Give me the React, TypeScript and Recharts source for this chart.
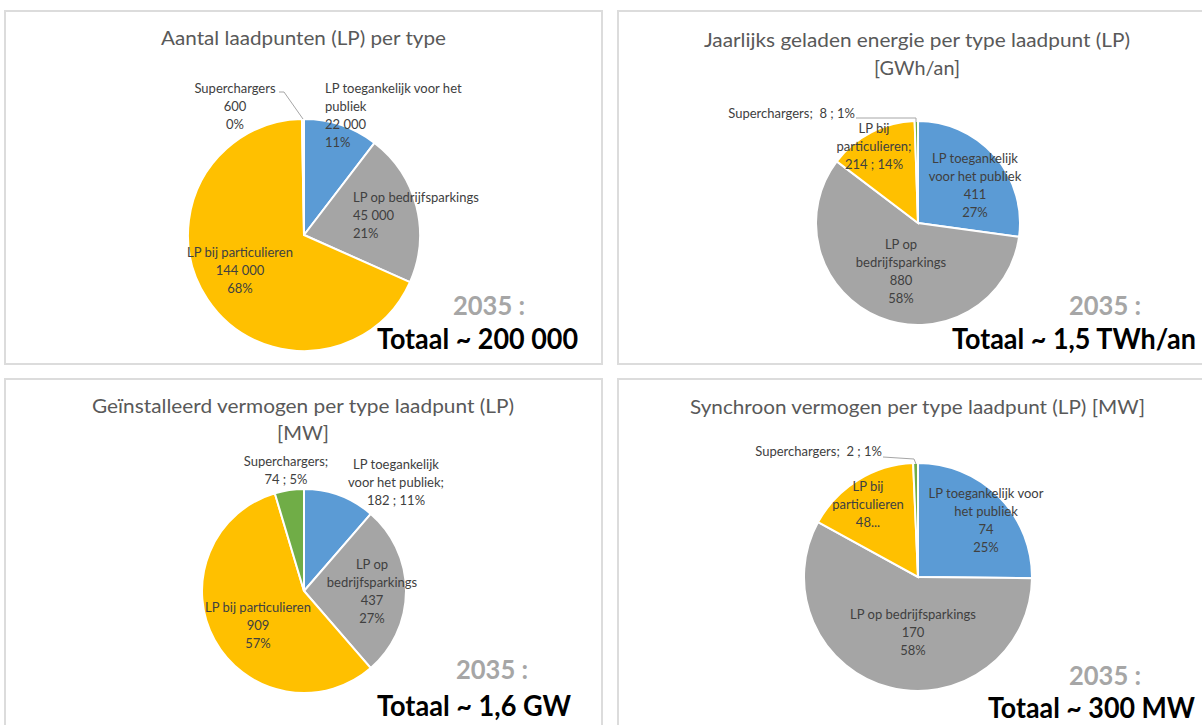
import React from 'react';
import { PieChart, Pie, Cell } from 'recharts';

// ---------- data ----------
const categories = [
  'LP toegankelijk voor het publiek',
  'LP op bedrijfsparkings',
  'LP bij particulieren',
  'Superchargers',
];
const sliceColors = ['#5B9BD5', '#A5A5A5', '#FFC000', '#70AD47'];

const countValues = [22000, 45000, 144000, 600];
const countPercents = ['11%', '21%', '68%', '0%'];

const energyValues = [411, 880, 214, 8];
const energyPercents = ['27%', '58%', '14%', '1%'];

const installedValues = [182, 437, 909, 74];
const installedPercents = ['11%', '27%', '57%', '5%'];

const syncValues = [74, 170, 48, 2];
const syncPercents = ['25%', '58%', '16%', '1%'];

const titles1 = ['Aantal laadpunten (LP) per type'];
const titles2 = ['Jaarlijks geladen energie per type laadpunt (LP)', '[GWh/an]'];
const titles3 = ['Geïnstalleerd vermogen per type laadpunt (LP)', '[MW]'];
const titles4 = ['Synchroon vermogen per type laadpunt (LP) [MW]'];

const yearLabel = '2035 :';
const totals = ['Totaal ~ 200 000', 'Totaal ~ 1,5 TWh/an', 'Totaal ~ 1,6 GW', 'Totaal ~ 300 MW'];

// label text templates ({v} = value, {p} = percent), per slice
const labelText1 = [
  ['LP toegankelijk voor het', 'publiek', '{v}', '{p}'],
  ['LP op bedrijfsparkings', '{v}', '{p}'],
  ['LP bij particulieren', '{v}', '{p}'],
  ['Superchargers', '{v}', '{p}'],
];
const labelText2 = [
  ['LP toegankelijk', 'voor het publiek', '{v}', '{p}'],
  ['LP op', 'bedrijfsparkings', '{v}', '{p}'],
  ['LP bij', 'particulieren;', '{v} ; {p}'],
  ['Superchargers;  {v} ; {p}'],
];
const labelText3 = [
  ['LP toegankelijk', 'voor het publiek;', '{v} ; {p}'],
  ['LP op', 'bedrijfsparkings', '{v}', '{p}'],
  ['LP bij particulieren', '{v}', '{p}'],
  ['Superchargers;', '{v} ; {p}'],
];
const labelText4 = [
  ['LP toegankelijk voor', 'het publiek', '{v}', '{p}'],
  ['LP op bedrijfsparkings', '{v}', '{p}'],
  ['LP bij', 'particulieren', '{v}...'],
  ['Superchargers;  {v} ; {p}'],
];

// ---------- layout / style ----------
type LabelPos = { dx: number; dy: number; anchor: 'start' | 'middle' | 'end'; leader?: number[][] };

const labelPos1: LabelPos[] = [
  { dx: 21, dy: -147, anchor: 'start' },
  { dx: 49, dy: -38, anchor: 'start' },
  { dx: -64, dy: 17, anchor: 'middle' },
  { dx: -69, dy: -147, anchor: 'middle', leader: [[-25, -143], [-20, -143], [-1, -116]] },
];
const labelPos2: LabelPos[] = [
  { dx: 57, dy: -65, anchor: 'middle' },
  { dx: -17, dy: 21, anchor: 'middle' },
  { dx: -44, dy: -95, anchor: 'middle' },
  { dx: -63, dy: -110, anchor: 'end', leader: [[-62, -105], [-2, -105], [-2, -101]] },
];
const labelPos3: LabelPos[] = [
  { dx: 92, dy: -127, anchor: 'middle' },
  { dx: 68, dy: -27, anchor: 'middle' },
  { dx: -46, dy: 16, anchor: 'middle' },
  { dx: -18, dy: -130, anchor: 'middle' },
];
const labelPos4: LabelPos[] = [
  { dx: 68, dy: -84, anchor: 'middle' },
  { dx: -5, dy: 37, anchor: 'middle' },
  { dx: -50, dy: -91, anchor: 'middle' },
  { dx: -36, dy: -126, anchor: 'end', leader: [[-35, -120], [-4, -118], [-2, -113]] },
];

const FONT = 'Lato, "Noto Sans", sans-serif';
const LABEL_COLOR = '#404040';
const LINE_H = 18;

const fmt = (v: number) => String(v).replace(/\B(?=(\d{3})+(?!\d))/g, ' ');

type PanelSpec = {
  values: number[];
  percents: string[];
  texts: string[][];
  pos: LabelPos[];
  box: { left: number; top: number; width: number; height: number };
  cx: number; // page coords
  cy: number;
  r: number;
  titles: string[];
  titleX: number;
  titleY: number[];
  titleLen: number[];
  yearX: number;
  yearY: number;
  total: string;
  totalEndX: number;
  totalY: number;
  totalLen: number;
};

const panels: PanelSpec[] = [
  {
    values: countValues, percents: countPercents, texts: labelText1, pos: labelPos1,
    box: { left: 4, top: 10, width: 599, height: 355 },
    cx: 304, cy: 235, r: 116,
    titles: titles1, titleX: 303.5, titleY: [38], titleLen: [285],
    yearX: 453, yearY: 305, total: totals[0], totalEndX: 578, totalY: 338, totalLen: 201,
  },
  {
    values: energyValues, percents: energyPercents, texts: labelText2, pos: labelPos2,
    box: { left: 617, top: 10, width: 600, height: 355 },
    cx: 918, cy: 223, r: 102,
    titles: titles2, titleX: 917, titleY: [40, 68], titleLen: [426, 86],
    yearX: 1069, yearY: 305, total: totals[1], totalEndX: 1196, totalY: 338, totalLen: 244,
  },
  {
    values: installedValues, percents: installedPercents, texts: labelText3, pos: labelPos3,
    box: { left: 4, top: 378, width: 599, height: 360 },
    cx: 304, cy: 591, r: 102,
    titles: titles3, titleX: 303, titleY: [406, 433], titleLen: [422, 52],
    yearX: 456, yearY: 669, total: totals[2], totalEndX: 571, totalY: 705, totalLen: 194,
  },
  {
    values: syncValues, percents: syncPercents, texts: labelText4, pos: labelPos4,
    box: { left: 617, top: 378, width: 600, height: 360 },
    cx: 918, cy: 577, r: 114,
    titles: titles4, titleX: 917.5, titleY: [407], titleLen: [455],
    yearX: 1069, yearY: 675, total: totals[3], totalEndX: 1195, totalY: 707, totalLen: 207,
  },
];

const makeLabel = (p: PanelSpec) => (props: any) => {
  const { cx, cy, index } = props;
  const spec = p.pos[index];
  const lines = p.texts[index].map((t) =>
    t.replace('{v}', fmt(p.values[index])).replace('{p}', p.percents[index])
  );
  const x = cx + spec.dx;
  return (
    <g key={`lbl-${index}`}>
      {spec.leader && (
        <polyline
          points={spec.leader.map(([lx, ly]) => `${cx + lx},${cy + ly}`).join(' ')}
          fill="none"
          stroke="#a6a6a6"
          strokeWidth={1}
        />
      )}
      <text
        textAnchor={spec.anchor}
        fill={LABEL_COLOR}
        fontSize={13}
        fontFamily={FONT}
        dominantBaseline="central"
        style={{ whiteSpace: 'pre' }}
      >
        {lines.map((l, i) => (
          <tspan key={i} x={x} y={cy + spec.dy + i * LINE_H}>
            {l}
          </tspan>
        ))}
      </text>
    </g>
  );
};

const PanelChart = ({ p }: { p: PanelSpec }) => {
  const data = categories.map((name, i) => ({ name, value: p.values[i] }));
  return (
    <div style={{ position: 'absolute', left: p.box.left, top: p.box.top }}>
      <PieChart width={p.box.width} height={p.box.height} margin={{ top: 0, right: 0, bottom: 0, left: 0 }}>
        <Pie
          data={data}
          dataKey="value"
          nameKey="name"
          cx={p.cx - p.box.left}
          cy={p.cy - p.box.top}
          outerRadius={p.r}
          startAngle={90}
          endAngle={-270}
          stroke="#ffffff"
          strokeWidth={2}
          isAnimationActive={false}
          labelLine={false}
          label={makeLabel(p)}
        >
          {data.map((_, i) => (
            <Cell key={i} fill={sliceColors[i]} />
          ))}
        </Pie>
      </PieChart>
    </div>
  );
};

export default function App() {
  return (
    <div
      style={{
        position: 'absolute',
        left: 0,
        top: 0,
        width: 1202,
        height: 725,
        overflow: 'hidden',
        background: '#ffffff',
        fontFamily: FONT,
      }}
    >
      {panels.map((p, i) => (
        <div
          key={`b${i}`}
          style={{
            position: 'absolute',
            left: p.box.left,
            top: p.box.top,
            width: p.box.width,
            height: p.box.height,
            border: '2px solid #dcdcdc',
            boxSizing: 'border-box',
          }}
        />
      ))}
      {panels.map((p, i) => (
        <PanelChart key={`c${i}`} p={p} />
      ))}
      <svg
        width={1202}
        height={725}
        style={{ position: 'absolute', left: 0, top: 0, pointerEvents: 'none' }}
      >
        {panels.map((p, i) => (
          <g key={`t${i}`}>
            {p.titles.map((t, j) => (
              <text
                key={j}
                x={p.titleX}
                y={p.titleY[j]}
                textAnchor="middle"
                dominantBaseline="central"
                fontSize={18.5}
                fontFamily={FONT}
                fill="#595959"
                textLength={p.titleLen[j]}
                lengthAdjust="spacingAndGlyphs"
              >
                {t}
              </text>
            ))}
            <text
              x={p.yearX}
              y={p.yearY}
              dominantBaseline="central"
              fontSize={26}
              fontWeight="bold"
              fontFamily={FONT}
              fill="#a6a6a6"
              textLength={72}
              lengthAdjust="spacingAndGlyphs"
            >
              {yearLabel}
            </text>
            <text
              x={p.totalEndX}
              y={p.totalY}
              textAnchor="end"
              dominantBaseline="central"
              fontSize={28}
              fontWeight="bold"
              fontFamily={FONT}
              fill="#000000"
              textLength={p.totalLen}
              lengthAdjust="spacingAndGlyphs"
            >
              {p.total}
            </text>
          </g>
        ))}
      </svg>
    </div>
  );
}
